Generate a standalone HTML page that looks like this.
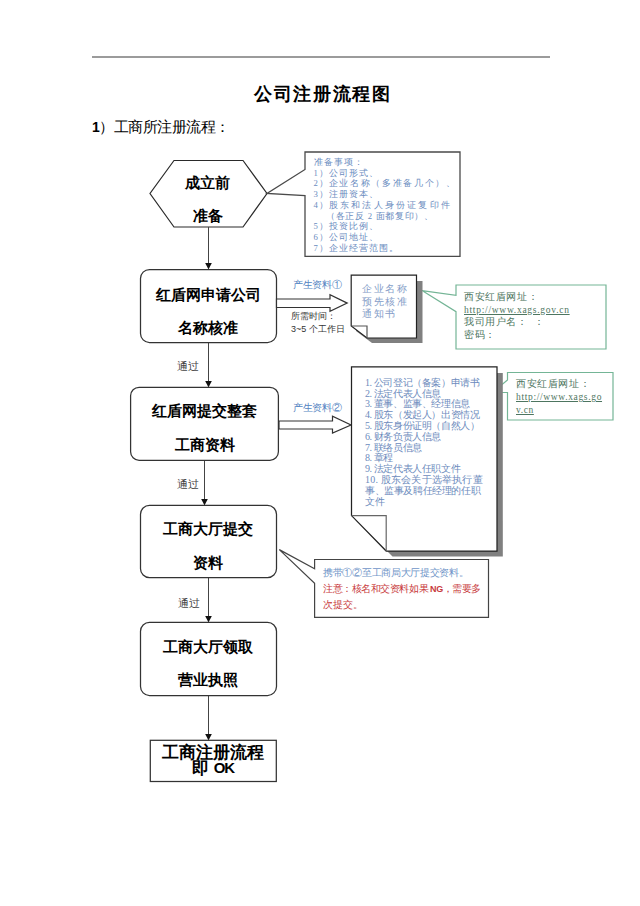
<!DOCTYPE html>
<html><head><meta charset="utf-8">
<style>
html,body{margin:0;padding:0;background:#fff;}
#pg{position:relative;width:640px;height:906px;overflow:hidden;background:#fff;}
svg{position:absolute;left:0;top:0;}
.t{position:absolute;white-space:nowrap;line-height:1;}
.sb{font-family:"Liberation Sans",sans-serif;font-weight:bold;color:#000;}
.sr{font-family:"Liberation Serif",serif;}
.ss{font-family:"Liberation Sans",sans-serif;}
</style></head><body><div id="pg">
<svg width="640" height="906" viewBox="0 0 640 906">
<!-- top rule -->
<line x1="92" y1="57" x2="550" y2="57" stroke="#7a7a7a" stroke-width="1.5"/>
<!-- hexagon -->
<polygon points="174,160.5 243,160.5 267,193.5 243,227 174,227 150,193.5" fill="none" stroke="#2a2a2a" stroke-width="1.2"/>
<!-- callout 1 -->
<polygon points="305,152 460,152 460,256.3 305,256.3 305,195.5 267,193.5 305,169.5" fill="#fff" stroke="#4a4a4a" stroke-width="1.3"/>
<!-- connectors -->
<g stroke="#444" stroke-width="1">
<line x1="208.5" y1="227" x2="208.5" y2="264"/>
<line x1="208.5" y1="342.5" x2="208.5" y2="382"/>
<line x1="204.5" y1="460" x2="204.5" y2="500"/>
<line x1="208.5" y1="577.5" x2="208.5" y2="617"/>
<line x1="208.5" y1="695.5" x2="208.5" y2="735"/>
</g>
<g fill="#111">
<polygon points="205.2,263 211.8,263 208.5,269.5"/>
<polygon points="205.2,381 211.8,381 208.5,387.5"/>
<polygon points="201.2,499 207.8,499 204.5,505.5"/>
<polygon points="205.2,616 211.8,616 208.5,622.5"/>
<polygon points="205.2,734 211.8,734 208.5,740.5"/>
</g>
<!-- boxes -->
<g fill="none" stroke="#333" stroke-width="1.25">
<rect x="140.5" y="269.5" width="136" height="73" rx="9"/>
<rect x="130.6" y="387.3" width="147.8" height="73" rx="8.5"/>
<rect x="140.5" y="505.3" width="136" height="72.4" rx="9"/>
<rect x="140.5" y="622.3" width="136" height="73.2" rx="9"/>
<rect x="150.3" y="740.3" width="126" height="41.2"/>
</g>
<!-- block arrows -->
<polygon points="276.5,299 330,299 330,294.8 347.2,303.1 330,311.3 330,307.5 276.5,307.5" fill="#fff" stroke="#333" stroke-width="1.2"/>
<polygon points="279,421 332.5,421 332.5,416.3 351,425 332.5,433 332.5,429 279,429" fill="#fff" stroke="#333" stroke-width="1.2"/>
<!-- green callout 1 -->
<polygon points="456,285 606,285 606,349 456,349 456,311.7 422,290.6 456,295.4" fill="#fff" stroke="#74b596" stroke-width="1.2"/>
<!-- green callout 2 -->
<polygon points="507.5,372.5 613,372.5 613,420 507.5,420 507.5,392.5 492.5,392.5 507.5,380" fill="#fff" stroke="#74b596" stroke-width="1.2"/>
<!-- doc 1 -->
<polygon points="356,281 422.5,281 422.5,343 372,343 356,331" fill="#808080"/>
<polygon points="351.2,275.2 416.5,275.2 416.5,338 367,338 351.2,326" fill="#fff" stroke="#222" stroke-width="1.2"/>
<polyline points="351.2,326 367,326 367,338" fill="none" stroke="#555" stroke-width="1.2"/>
<!-- doc 2 -->
<polygon points="357,373 502.8,373 502.8,556.5 392.5,556.5 357,521" fill="#808080"/>
<polygon points="351.5,366.8 497,366.8 497,551 386.2,551 351.5,515.6" fill="#fff" stroke="#222" stroke-width="1.25"/>
<polyline points="351.5,515.6 386.2,515.6 386.2,551" fill="none" stroke="#666" stroke-width="1.2"/>
<!-- red callout -->
<polygon points="314.6,559.5 488.5,559.5 488.5,617.3 314.6,617.3 314.6,583.2 279.3,549.6 314.6,568.7" fill="#fff" stroke="#444" stroke-width="1.2"/>
</svg>

<!-- title -->
<div class="t sb" style="left:254px;top:84.5px;font-size:18.4px;letter-spacing:1.7px;">公司注册流程图</div>
<div class="t sr" style="left:92px;top:119.5px;font-size:14.8px;letter-spacing:-0.5px;"><b class="ss" style="font-weight:bold;font-size:14px">1</b>）工商所注册流程：</div>

<!-- hexagon text -->
<div class="t sb" style="left:185px;top:175px;font-size:15px;">成立前</div>
<div class="t sb" style="left:193px;top:208px;font-size:15px;">准备</div>

<!-- box texts -->
<div class="t sb" style="left:156px;top:286.5px;font-size:15px;">红盾网申请公司</div>
<div class="t sb" style="left:178px;top:320px;font-size:15px;">名称核准</div>
<div class="t sb" style="left:152px;top:403px;font-size:15px;">红盾网提交整套</div>
<div class="t sb" style="left:175px;top:437px;font-size:15px;">工商资料</div>
<div class="t sb" style="left:163px;top:521px;font-size:15px;">工商大厅提交</div>
<div class="t sb" style="left:193px;top:555px;font-size:15px;">资料</div>
<div class="t sb" style="left:163px;top:639px;font-size:15px;">工商大厅领取</div>
<div class="t sb" style="left:178px;top:672px;font-size:15px;">营业执照</div>
<div class="t sb" style="left:162px;top:743.8px;font-size:17px;">工商注册流程</div>
<div class="t sb" style="left:192px;top:760px;font-size:17px;">即 <span style="font-size:15px;letter-spacing:-1.2px;position:relative;top:-1px">OK</span></div>

<!-- pass labels -->
<div class="t ss" style="left:177px;top:361px;font-size:11px;color:#444;">通过</div>
<div class="t ss" style="left:177px;top:479px;font-size:11px;color:#444;">通过</div>
<div class="t ss" style="left:178px;top:598px;font-size:11px;color:#444;">通过</div>

<!-- arrow labels -->
<div class="t ss" style="left:293px;top:279.7px;font-size:9.7px;color:#5585c2;letter-spacing:-0.3px;">产生资料①</div>
<div class="t ss" style="left:291px;top:311.8px;font-size:9px;color:#333;">所需时间：</div>
<div class="t ss" style="left:291px;top:325px;font-size:9px;color:#333;">3~5 个工作日</div>
<div class="t ss" style="left:293px;top:402.5px;font-size:9.7px;color:#5585c2;letter-spacing:-0.3px;">产生资料②</div>

<!-- callout 1 text -->
<div class="t sr" style="left:313.5px;top:156.9px;font-size:8.7px;line-height:10.75px;color:#6a8cc0;letter-spacing:1px;">准备事项：<br>1）公司形式、<br>2）<span style="letter-spacing:1.65px">企业名称（多准备几个）、</span><br>3）注册资本、<br>4）<span style="letter-spacing:2.2px">股东和法人身份证复印件</span><br><span style="padding-left:12.5px;letter-spacing:0.7px">（各正反 2 面都复印）、</span><br>5）投资比例、<br>6）公司地址、<br>7）企业经营范围。</div>

<!-- doc1 text -->
<div class="t sr" style="left:362px;top:283.1px;font-size:9.8px;line-height:12.4px;color:#859dc8;letter-spacing:1.6px;">企业名称<br>预先核准<br>通知书</div>

<!-- green 1 text -->
<div class="t sr" style="left:464px;top:290.9px;font-size:9.5px;line-height:12.65px;color:#4d7560;letter-spacing:0.6px;">西安红盾网址：<br><u style="letter-spacing:0.72px">http://www.xags.gov.cn</u><br>我司用户名：&nbsp;&nbsp;：<br>密码：</div>

<!-- doc2 text -->
<div class="t sr" style="left:365px;top:377.8px;font-size:10px;line-height:10.8px;color:#6d8bbd;letter-spacing:-0.4px;">1. 公司登记（备案）申请书<br>2. 法定代表人信息<br>3. 董事、监事、经理信息<br>4. 股东（发起人）出资情况<br>5. 股东身份证明（自然人）<br>6. 财务负责人信息<br>7. 联络员信息<br>8. 章程<br>9. 法定代表人任职文件<br><span style="letter-spacing:0.2px">10. 股东会关于选举执行董</span><br>事、监事及聘任经理的任职<br>文件</div>

<!-- green 2 text -->
<div class="t sr" style="left:516px;top:378px;font-size:9.5px;line-height:13.2px;color:#4d7560;letter-spacing:0.6px;">西安红盾网址：<br><u style="letter-spacing:0.65px">http://www.xags.go</u><br><u>v.cn</u></div>

<!-- red callout text -->
<div class="t sr" style="left:323px;top:568.2px;font-size:10px;color:#6f95c8;letter-spacing:-0.3px;">携带①②至工商局大厅提交资料。</div>
<div class="t sr" style="left:323px;top:583.6px;font-size:10px;color:#c83a3c;letter-spacing:-0.45px;">注意：核名和交资料如果 <b class="ss" style="font-size:9px">NG</b>，需要多</div>
<div class="t sr" style="left:323px;top:600.4px;font-size:10px;color:#c83a3c;">次提交。</div>
</div></body></html>
